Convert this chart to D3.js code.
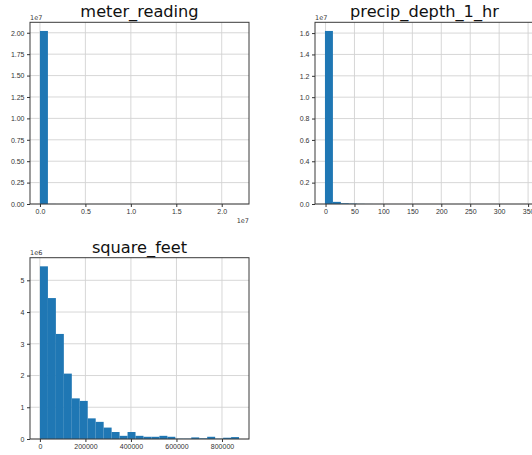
<!DOCTYPE html>
<html>
<head>
<meta charset="utf-8">
<title>Histograms</title>
<style>
  html, body { margin: 0; padding: 0; background: #fff; }
  svg { display: block; font-family: "DejaVu Sans", sans-serif; }
  .tick text { fill: #333; font-size: 7px; }
  .tick line { stroke: #333; }
  .domain { display: none; }
</style>
</head>
<body>
<div id="chart"></div>
<script src="https://cdn.jsdelivr.net/npm/d3@7"></script>
<script>
// meter_reading: 25 bins between min and max
const meterRange = [0, 21904700];
const meterCounts = [20210000, 9000, 2500, 900, 400, 200, 100, 60, 40, 20, 10, 10, 5, 5, 3, 2, 2, 1, 1, 1, 1, 1, 1, 1, 1];
const meterXTicks = [0, 0.5e7, 1e7, 1.5e7, 2e7];
const meterYTicks = [0, 0.25e7, 0.5e7, 0.75e7, 1e7, 1.25e7, 1.5e7, 1.75e7, 2e7];

// precip_depth_1_hr
const precipRange = [-1, 343];
const precipCounts = [16200000, 200000, 70000, 40000, 15000, 6000, 2500, 1200, 600, 300, 150, 80, 40, 20, 10, 8, 5, 3, 2, 2, 1, 1, 1, 1, 1];
const precipXTicks = [0, 50, 100, 150, 200, 250, 300, 350];
const precipYTicks = [0, 0.2e7, 0.4e7, 0.6e7, 0.8e7, 1e7, 1.2e7, 1.4e7, 1.6e7];

// square_feet
const sqftRange = [283, 875000];
const sqftCounts = [5440000, 4440000, 3310000, 2060000, 1280000, 1200000, 650000, 540000, 360000, 220000,
                    100000, 220000, 100000, 70000, 70000, 100000, 70000, 10000, 10000, 50000,
                    20000, 70000, 10000, 40000, 60000];
const sqftXTicks = [0, 200000, 400000, 600000, 800000];
const sqftYTicks = [0, 1e6, 2e6, 3e6, 4e6, 5e6];

const W = 532, H = 455;
const svg = d3.select('#chart').append('svg')
  .attr('width', W).attr('height', H);

function panel(opt) {
  const { title, range, counts, xTicks, yTicks, xFmt, yFmt, yExp, xExp, box } = opt;
  const span = range[1] - range[0];
  const n = counts.length;
  const bins = counts.map((c, i) => ({
    x0: range[0] + span * i / n,
    x1: range[0] + span * (i + 1) / n,
    c
  }));
  const ymax = d3.max(counts);

  const x = d3.scaleLinear()
    .domain([range[0] - 0.05 * span, range[1] + 0.05 * span])
    .range([box.x, box.x + box.w]);
  const y = d3.scaleLinear()
    .domain([0, ymax * 1.05])
    .range([box.y + box.h, box.y]);

  const g = svg.append('g');

  // grid
  const grid = g.append('g').attr('stroke', '#d2d2d2').attr('stroke-width', 0.9);
  grid.selectAll('.gx').data(xTicks).join('line')
    .attr('x1', d => x(d)).attr('x2', d => x(d))
    .attr('y1', box.y).attr('y2', box.y + box.h);
  grid.selectAll('.gy').data(yTicks).join('line')
    .attr('x1', box.x).attr('x2', box.x + box.w)
    .attr('y1', d => y(d)).attr('y2', d => y(d));

  // bars
  g.append('g').selectAll('rect').data(bins).join('rect')
    .attr('x', d => x(d.x0))
    .attr('width', d => x(d.x1) - x(d.x0))
    .attr('y', d => y(d.c))
    .attr('height', d => y(0) - y(d.c))
    .attr('fill', '#1f77b4');

  // frame
  g.append('rect')
    .attr('x', box.x).attr('y', box.y)
    .attr('width', box.w).attr('height', box.h)
    .attr('fill', 'none').attr('stroke', '#3a3a3a').attr('stroke-width', 1);

  g.append('g')
    .attr('transform', `translate(0,${box.y + box.h})`)
    .call(d3.axisBottom(x).tickValues(xTicks).tickFormat(xFmt).tickSize(3).tickPadding(2.5));
  g.append('g')
    .attr('transform', `translate(${box.x},0)`)
    .call(d3.axisLeft(y).tickValues(yTicks).tickFormat(yFmt).tickSize(3).tickPadding(2.5));

  // title
  g.append('text')
    .attr('x', box.x + box.w / 2).attr('y', box.y - 5)
    .attr('text-anchor', 'middle')
    .attr('font-size', 16.2).attr('fill', '#111')
    .text(title);

  // offset labels
  if (yExp) {
    g.append('text')
      .attr('x', box.x).attr('y', box.y - 2.5)
      .attr('font-size', 6.5).attr('fill', '#333')
      .text(yExp);
  }
  if (xExp) {
    g.append('text')
      .attr('x', box.x + box.w).attr('y', box.y + box.h + 19)
      .attr('text-anchor', 'end')
      .attr('font-size', 6.5).attr('fill', '#333')
      .text(xExp);
  }
}

panel({
  title: 'meter_reading', range: meterRange, counts: meterCounts,
  xTicks: meterXTicks, yTicks: meterYTicks,
  xFmt: d => d3.format('.1f')(d / 1e7), yFmt: d => d3.format('.2f')(d / 1e7),
  yExp: '1e7', xExp: '1e7',
  box: { x: 30, y: 22.3, w: 219, h: 181.7 }
});

// right part of this panel is cut off by the picture edge
panel({
  title: 'precip_depth_1_hr', range: precipRange, counts: precipCounts,
  xTicks: precipXTicks, yTicks: precipYTicks,
  xFmt: d => d3.format('d')(d), yFmt: d => d3.format('.1f')(d / 1e7),
  yExp: '1e7', xExp: null,
  box: { x: 315, y: 22.3, w: 219, h: 181.7 }
});

panel({
  title: 'square_feet', range: sqftRange, counts: sqftCounts,
  xTicks: sqftXTicks, yTicks: sqftYTicks,
  xFmt: d => d3.format('d')(d), yFmt: d => d3.format('d')(d / 1e6),
  yExp: '1e6', xExp: null,
  box: { x: 30, y: 257.7, w: 219, h: 181.3 }
});
</script>
</body>
</html>
